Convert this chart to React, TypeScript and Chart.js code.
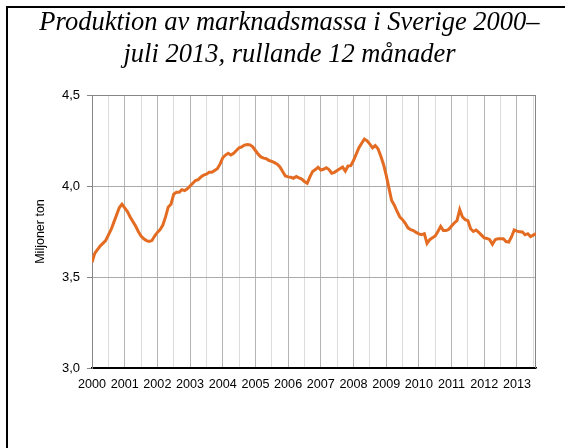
import React, { useEffect, useRef } from "react";
import { Chart, registerables } from "chart.js";

Chart.register(...registerables);

const TITLE_LINES = ["Produktion av marknadsmassa i Sverige 2000–", "juli 2013, rullande 12 månader"];
const Y_AXIS_TITLE = "Miljoner ton";
const START_YEAR = 2000;
const YEAR_LABELS = ["2000", "2001", "2002", "2003", "2004", "2005", "2006", "2007", "2008", "2009", "2010", "2011", "2012", "2013"];
const Y_MIN = 3.0;
const Y_MAX = 4.5;
const Y_STEP = 0.5;
const AXIS_MONTHS = 163;

// Rolling 12-month production, million tonnes, one value per month from Jan 2000
const PRODUCTION = [
  3.58, 3.63, 3.65, 3.67, 3.685, 3.70, 3.73, 3.76, 3.80, 3.84, 3.88, 3.90,
  3.88, 3.86, 3.83, 3.805, 3.78, 3.75, 3.725, 3.71, 3.70, 3.695, 3.70, 3.725,
  3.745, 3.76, 3.785, 3.83, 3.885, 3.90, 3.955, 3.965, 3.965, 3.98, 3.975, 3.985,
  4.00, 4.015, 4.03, 4.035, 4.05, 4.06, 4.065, 4.075, 4.075, 4.085, 4.095, 4.12,
  4.155, 4.17, 4.18, 4.17, 4.18, 4.195, 4.21, 4.215, 4.225, 4.228, 4.226, 4.215,
  4.195, 4.175, 4.16, 4.153, 4.15, 4.14, 4.135, 4.128, 4.12, 4.105, 4.08, 4.055,
  4.05, 4.048, 4.042, 4.052, 4.045, 4.038, 4.025, 4.015, 4.05, 4.08, 4.09, 4.103,
  4.088, 4.092, 4.10, 4.09, 4.07, 4.075, 4.085, 4.095, 4.104, 4.082, 4.11, 4.112,
  4.14, 4.175, 4.21, 4.235, 4.258, 4.248, 4.23, 4.21, 4.222, 4.205, 4.165, 4.12,
  4.06, 3.99, 3.92, 3.895, 3.86, 3.83, 3.815, 3.795, 3.77, 3.76, 3.755, 3.745,
  3.737, 3.733, 3.738, 3.685, 3.705, 3.715, 3.725, 3.75, 3.778, 3.755, 3.755, 3.762,
  3.78, 3.797, 3.81, 3.87, 3.83, 3.815, 3.81, 3.765, 3.75, 3.758, 3.745, 3.73,
  3.715, 3.712, 3.705, 3.68, 3.705, 3.71, 3.71, 3.71, 3.695, 3.692, 3.72, 3.758,
  3.752, 3.748, 3.747, 3.732, 3.738, 3.722, 3.73, 3.738,
];

const W = 568;
const H = 448;

const plotFrame = {
  id: "plotFrame",
  beforeDatasetsDraw(chart: any) {
    const { ctx, chartArea } = chart;
    ctx.save();
    ctx.strokeStyle = "#868686";
    ctx.lineWidth = 1;
    ctx.beginPath();
    ctx.moveTo(Math.round(chartArea.right) - 0.5, chartArea.top);
    ctx.lineTo(Math.round(chartArea.right) - 0.5, chartArea.bottom);
    ctx.stroke();
    ctx.restore();
  },
};

export default function App() {
  const canvasRef = useRef<HTMLCanvasElement | null>(null);

  useEffect(() => {
    const canvas = canvasRef.current;
    if (!canvas) return;
    const points = PRODUCTION.map((v, i) => ({ x: i, y: v }));
    const chart = new Chart(canvas, {
      type: "line",
      data: {
        datasets: [
          {
            label: Y_AXIS_TITLE,
            data: points,
            borderColor: "#E46C22",
            backgroundColor: "#E46C22",
            borderWidth: 3,
            pointRadius: 0,
            tension: 0,
            fill: false,
          },
        ],
      },
      options: {
        responsive: false,
        animation: false,
        devicePixelRatio: 1,
        layout: { padding: { left: 0, right: 32, top: 95, bottom: 0 } },
        plugins: {
          legend: { display: false },
          title: { display: false },
          tooltip: { enabled: false },
        },
        scales: {
          x: {
            type: "linear",
            min: 0,
            max: AXIS_MONTHS,
            afterBuildTicks: (axis: any) => {
              const ticks = [];
              for (let m = 0; m <= AXIS_MONTHS; m += 6) ticks.push({ value: m });
              axis.ticks = ticks;
            },
            afterFit: (s: any) => {
              s.height = 80;
            },
            ticks: {
              autoSkip: false,
              maxRotation: 0,
              minRotation: 0,
              includeBounds: false,
              padding: 9,
              color: "#000",
              font: { family: "'Liberation Sans', Arial, sans-serif", size: 12.6 },
              callback: (v: any) => {
                const n = Number(v);
                if (n % 12 !== 0) return "";
                return YEAR_LABELS[n / 12] ?? String(START_YEAR + n / 12);
              },
            },
            grid: {
              drawTicks: false,
              color: (ctx: any) => {
                const v = ctx.tick ? ctx.tick.value : 0;
                if (v === 0) return "rgba(0,0,0,0)";
                return v % 12 === 0 ? "#b4b4b4" : "#dcdcdc";
              },
              lineWidth: 1,
            },
            border: { display: true, color: "#000", width: 1.5 },
          },
          y: {
            type: "linear",
            min: Y_MIN,
            max: Y_MAX,
            afterFit: (s: any) => {
              s.width = 92;
            },
            ticks: {
              stepSize: Y_STEP,
              padding: 7,
              color: "#000",
              font: { family: "'Liberation Sans', Arial, sans-serif", size: 13 },
              callback: (v: any) => Number(v).toFixed(1).replace(".", ","),
            },
            grid: {
              drawTicks: true,
              tickLength: 5,
              color: (ctx: any) => {
                const v = ctx.tick ? ctx.tick.value : 0;
                if (Math.abs(v - Y_MIN) < 1e-6) return "#000";
                if (Math.abs(v - Y_MAX) < 1e-6) return "#868686";
                return "#ababab";
              },
              tickColor: "#868686",
            },
            border: { display: true, color: "#868686", width: 1 },
            title: {
              display: true,
              text: Y_AXIS_TITLE,
              color: "#000",
              font: { family: "'Liberation Sans', Arial, sans-serif", size: 12.5 },
              padding: { top: 33, bottom: 0 },
            },
          },
        },
      },
      plugins: [plotFrame],
    });
    return () => chart.destroy();
  }, []);

  return (
    <div style={{ position: "absolute", left: 0, top: 0, width: W, height: H, overflow: "hidden", background: "#fff" }}>
      <canvas ref={canvasRef} width={W} height={H} style={{ position: "absolute", left: 0, top: 0, width: W, height: H }} />
      <div
        style={{
          position: "absolute",
          left: 6,
          top: 6,
          width: 559,
          height: 442,
          boxSizing: "border-box",
          borderTop: "2px solid #000",
          borderLeft: "2px solid #000",
          pointerEvents: "none",
        }}
      />
      <div
        style={{
          position: "absolute",
          left: 0,
          top: 5,
          width: 579,
          textAlign: "center",
          fontFamily: "'Liberation Serif', 'Times New Roman', serif",
          fontStyle: "italic",
          fontSize: "26.5px",
          lineHeight: "32px",
          color: "#000",
          whiteSpace: "nowrap",
        }}
      >
        {TITLE_LINES.map((t, i) => (
          <div key={i}>{t}</div>
        ))}
      </div>
    </div>
  );
}
